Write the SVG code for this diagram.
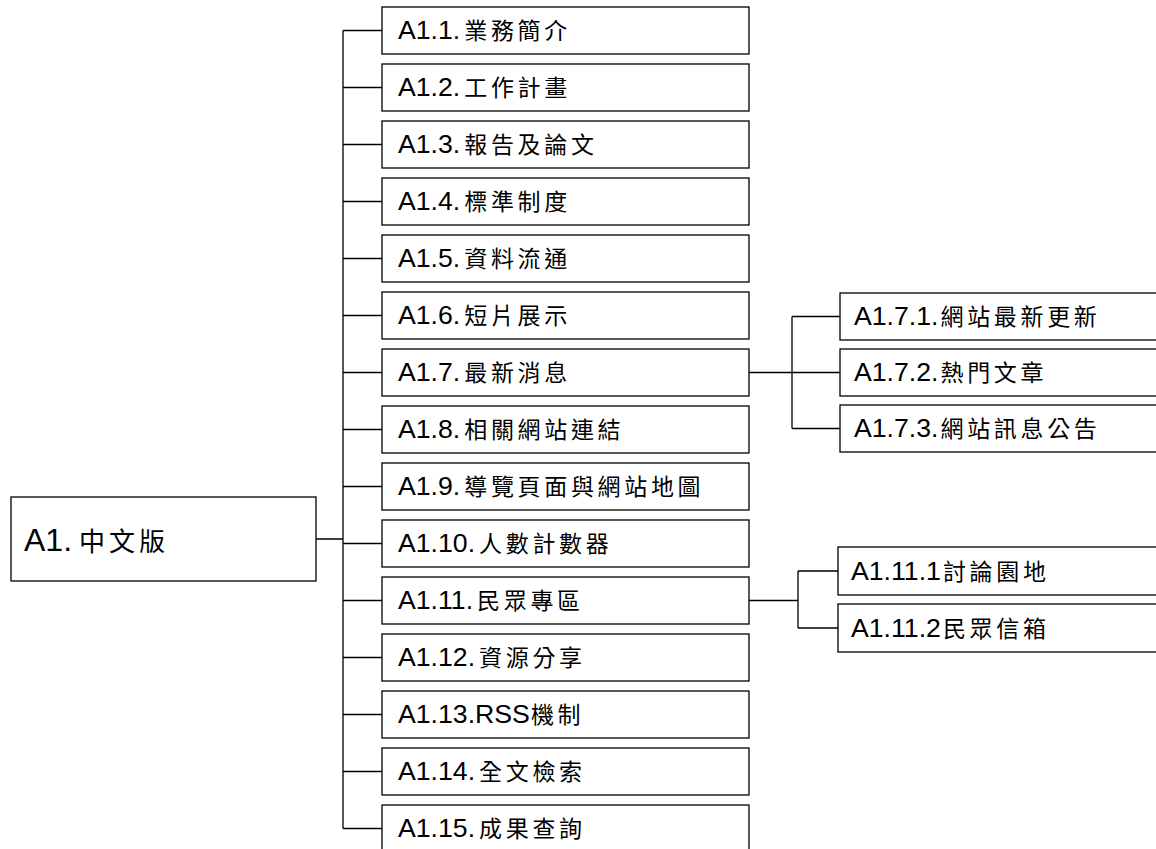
<svg xmlns="http://www.w3.org/2000/svg" width="1156" height="849" viewBox="0 0 1156 849">
<style>
.box{fill:#fff;stroke:#000;stroke-width:1.3}
.t{font-family:"Liberation Sans","Noto Sans CJK TC",sans-serif;font-size:26.67px;fill:#000}
.k{font-family:"Noto Sans CJK TC",sans-serif;font-size:23px;letter-spacing:3.67px}
.root{font-size:32px}
.rk{font-family:"Noto Sans CJK TC",sans-serif;font-size:26px;letter-spacing:4px}
.c{fill:none;stroke:#000;stroke-width:1.3}
</style>
<rect width="1156" height="849" fill="#fff"/>
<g id="connectors">
<path class="c" d="M316 539H343M343 30.5V828.5"/>
<path class="c" d="M343 30.5H382M343 87.5H382M343 144.5H382M343 201.5H382M343 258.5H382M343 315.5H382M343 372.5H382M343 429.5H382M343 486.5H382M343 543.5H382M343 600.5H382M343 657.5H382M343 714.5H382M343 771.5H382M343 828.5H382"/>
<path class="c" d="M749 372.5H840M792 316.5V428.5M792 316.5H840M792 428.5H840"/>
<path class="c" d="M749 600.5H798M798 571V628M798 571H838M798 628H838"/>
</g>
<g id="A1"><rect class="box" x="11" y="497" width="305" height="84"/><text class="t root" x="24" y="551">A1.<tspan class="rk" x="79">中文版</tspan></text></g>
<g id="A1.1"><rect class="box" x="382" y="7" width="367" height="47"/><text class="t" x="398" y="39">A1.1.<tspan class="k" dx="4">業務簡介</tspan></text></g>
<g id="A1.2"><rect class="box" x="382" y="64" width="367" height="47"/><text class="t" x="398" y="96">A1.2.<tspan class="k" dx="4">工作計畫</tspan></text></g>
<g id="A1.3"><rect class="box" x="382" y="121" width="367" height="47"/><text class="t" x="398" y="153">A1.3.<tspan class="k" dx="4">報告及論文</tspan></text></g>
<g id="A1.4"><rect class="box" x="382" y="178" width="367" height="47"/><text class="t" x="398" y="210">A1.4.<tspan class="k" dx="4">標準制度</tspan></text></g>
<g id="A1.5"><rect class="box" x="382" y="235" width="367" height="47"/><text class="t" x="398" y="267">A1.5.<tspan class="k" dx="4">資料流通</tspan></text></g>
<g id="A1.6"><rect class="box" x="382" y="292" width="367" height="47"/><text class="t" x="398" y="324">A1.6.<tspan class="k" dx="4">短片展示</tspan></text></g>
<g id="A1.7"><rect class="box" x="382" y="349" width="367" height="47"/><text class="t" x="398" y="381">A1.7.<tspan class="k" dx="4">最新消息</tspan></text></g>
<g id="A1.8"><rect class="box" x="382" y="406" width="367" height="47"/><text class="t" x="398" y="438">A1.8.<tspan class="k" dx="4">相關網站連結</tspan></text></g>
<g id="A1.9"><rect class="box" x="382" y="463" width="367" height="47"/><text class="t" x="398" y="495">A1.9.<tspan class="k" dx="4">導覽頁面與網站地圖</tspan></text></g>
<g id="A1.10"><rect class="box" x="382" y="520" width="367" height="47"/><text class="t" x="398" y="552">A1.10.<tspan class="k" dx="4">人數計數器</tspan></text></g>
<g id="A1.11"><rect class="box" x="382" y="577" width="367" height="47"/><text class="t" x="398" y="609">A1.11.<tspan class="k" dx="4">民眾專區</tspan></text></g>
<g id="A1.12"><rect class="box" x="382" y="634" width="367" height="47"/><text class="t" x="398" y="666">A1.12.<tspan class="k" dx="4">資源分享</tspan></text></g>
<g id="A1.13"><rect class="box" x="382" y="691" width="367" height="47"/><text class="t" x="398" y="723">A1.13.RSS<tspan class="k" dx="1">機制</tspan></text></g>
<g id="A1.14"><rect class="box" x="382" y="748" width="367" height="47"/><text class="t" x="398" y="780">A1.14.<tspan class="k" dx="4">全文檢索</tspan></text></g>
<g id="A1.15"><rect class="box" x="382" y="805" width="367" height="47"/><text class="t" x="398" y="837">A1.15.<tspan class="k" dx="4">成果查詢</tspan></text></g>
<g id="A1.7.1"><rect class="box" x="840" y="293" width="330" height="47"/><text class="t" x="854" y="325">A1.7.1.<tspan class="k" dx="2">網站最新更新</tspan></text></g>
<g id="A1.7.2"><rect class="box" x="840" y="349" width="330" height="47"/><text class="t" x="854" y="381">A1.7.2.<tspan class="k" dx="2">熱門文章</tspan></text></g>
<g id="A1.7.3"><rect class="box" x="840" y="405" width="330" height="47"/><text class="t" x="854" y="437">A1.7.3.<tspan class="k" dx="2">網站訊息公告</tspan></text></g>
<g id="A1.11.1"><rect class="box" x="838" y="547" width="330" height="48"/><text class="t" x="851" y="580">A1.11.1<tspan class="k" dx="2">討論園地</tspan></text></g>
<g id="A1.11.2"><rect class="box" x="838" y="604" width="330" height="48"/><text class="t" x="851" y="637">A1.11.2<tspan class="k" dx="2">民眾信箱</tspan></text></g>
</svg>
